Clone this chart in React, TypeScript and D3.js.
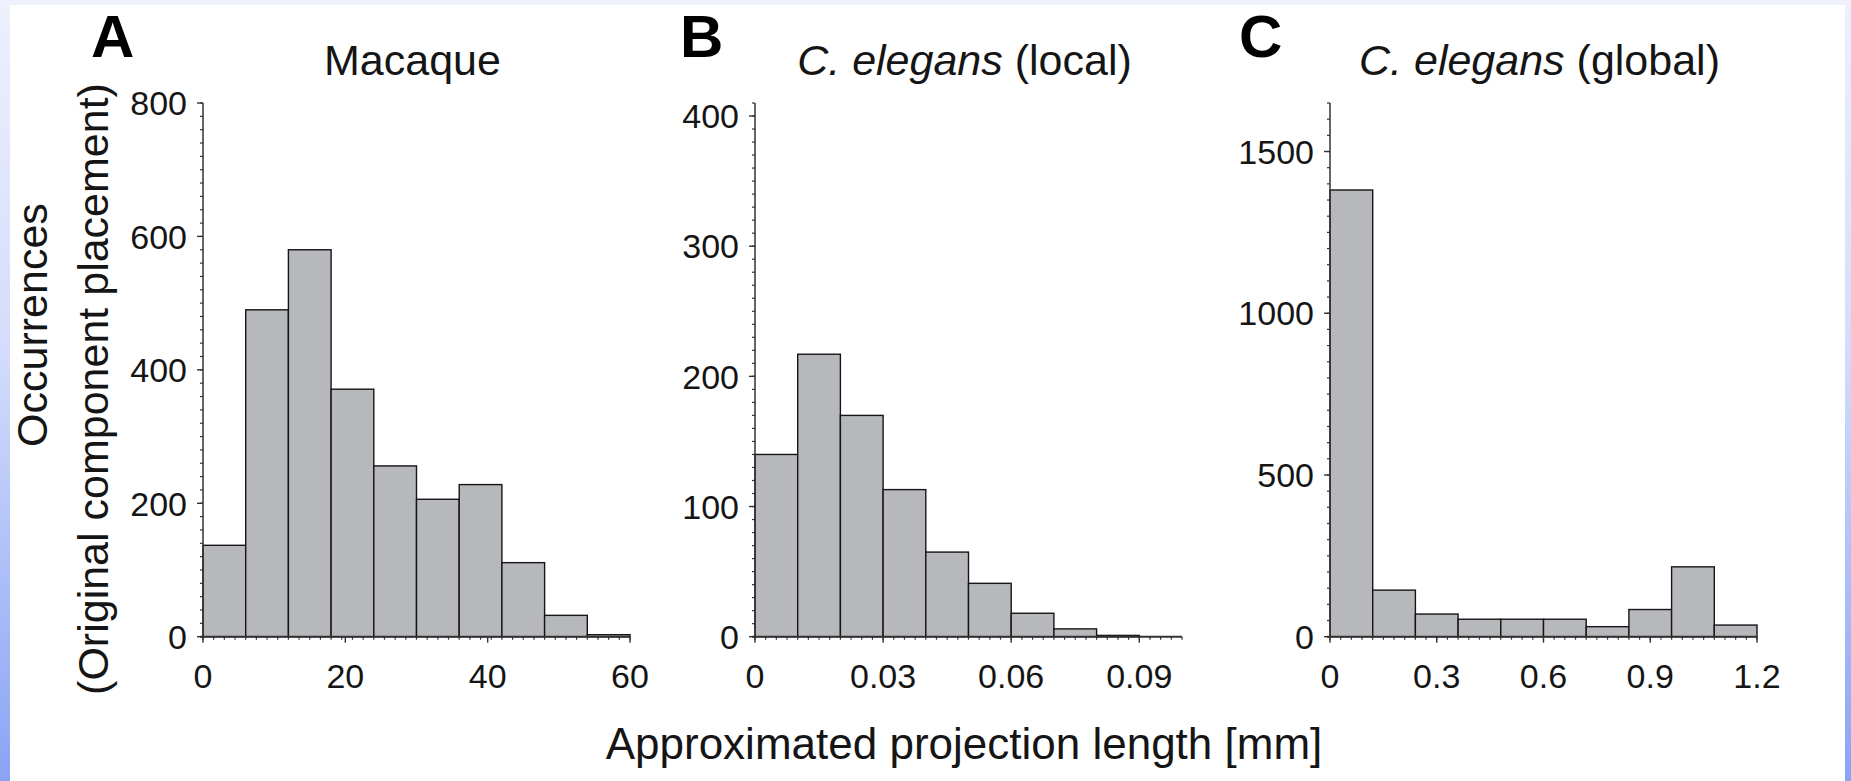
import React from "react";
import * as d3 from "d3";

// ---- data ----
const macaqueCounts = [137, 490, 580, 371, 256, 206, 228, 111, 32, 3];
const localCounts = [140, 217, 170, 113, 65, 41, 18, 6, 1, 0];
const globalCounts = [1381, 144, 70, 54, 54, 54, 31, 84, 216, 36];

const macaqueBin = 6;
const localBin = 0.01;
const globalBin = 0.12;

const macaqueXTicks = [0, 20, 40, 60];
const macaqueXLabels = ["0", "20", "40", "60"];
const macaqueYTicks = [0, 200, 400, 600, 800];

const localXTicks = [0, 0.03, 0.06, 0.09];
const localXLabels = ["0", "0.03", "0.06", "0.09"];
const localYTicks = [0, 100, 200, 300, 400];

const globalXTicks = [0, 0.3, 0.6, 0.9, 1.2];
const globalXLabels = ["0", "0.3", "0.6", "0.9", "1.2"];
const globalYTicks = [0, 500, 1000, 1500];

const panelLetters = ["A", "B", "C"];
const xAxisTitle = "Approximated projection length [mm]";
const yAxisTitle1 = "Occurrences";
const yAxisTitle2 = "(Original component placement)";

const W = 1851;
const H = 781;
const FONT = "'Liberation Sans', Arial, Helvetica, sans-serif";
const BAR_FILL = "#b7b8bc";
const INK = "#151515";

type Panel = {
  letter: string;
  counts: number[];
  bin: number;
  xMax: number;
  yMax: number;
  xTicks: number[];
  xLabels: string[];
  yTicks: number[];
  yMinor: number;
  left: number;
  letterX: number;
  title: React.ReactNode;
};

const panels: Panel[] = [
  {
    letter: panelLetters[0], counts: macaqueCounts, bin: macaqueBin, xMax: 60, yMax: 800,
    xTicks: macaqueXTicks, xLabels: macaqueXLabels, yTicks: macaqueYTicks, yMinor: 20,
    left: 203, letterX: 91,
    title: <tspan>Macaque</tspan>,
  },
  {
    letter: panelLetters[1], counts: localCounts, bin: localBin, xMax: 0.1, yMax: 410,
    xTicks: localXTicks, xLabels: localXLabels, yTicks: localYTicks, yMinor: 10,
    left: 755, letterX: 680,
    title: (<><tspan fontStyle="italic">C. elegans</tspan><tspan> (local)</tspan></>),
  },
  {
    letter: panelLetters[2], counts: globalCounts, bin: globalBin, xMax: 1.2, yMax: 1650,
    xTicks: globalXTicks, xLabels: globalXLabels, yTicks: globalYTicks, yMinor: 50,
    left: 1330, letterX: 1239,
    title: (<><tspan fontStyle="italic">C. elegans</tspan><tspan> (global)</tspan></>),
  },
];

const PLOT_W = 427;
const Y0 = 636.7;
const YTOP = 103;

function HistPanel({ p }: { p: Panel }) {
  const x = d3.scaleLinear().domain([0, p.xMax]).range([p.left, p.left + PLOT_W]);
  const y = d3.scaleLinear().domain([0, p.yMax]).range([Y0, YTOP]);
  const xMinorStep = p.bin / 4;
  const nx = Math.round(p.xMax / xMinorStep);
  const xMinor = d3.range(0, nx + 1).map((i) => i * xMinorStep);
  const ny = Math.floor(p.yMax / p.yMinor + 1e-6);
  const yMinor = d3.range(0, ny + 1).map((i) => i * p.yMinor);
  const cx = p.left + PLOT_W / 2 - 4;
  return (
    <g>
      <text x={p.letterX} y={57} fontSize={60} fontWeight="bold" fill="#000" fontFamily={FONT}>
        {p.letter}
      </text>
      <text x={cx} y={75} fontSize={43} textAnchor="middle" fill={INK} fontFamily={FONT}>
        {p.title}
      </text>
      {p.counts.map((c, i) =>
        c > 0 ? (
          <rect
            key={i}
            x={x(i * p.bin)}
            y={y(c)}
            width={x((i + 1) * p.bin) - x(i * p.bin)}
            height={Y0 - y(c)}
            fill={BAR_FILL}
            stroke={INK}
            strokeWidth={1.4}
          />
        ) : null
      )}
      {/* y axis */}
      <line x1={x(0)} x2={x(0)} y1={Y0} y2={YTOP} stroke="#333" strokeWidth={1.5} />
      {yMinor.map((v, i) => (
        <line key={"ym" + i} x1={x(0) - 3} x2={x(0)} y1={y(v)} y2={y(v)} stroke="#333" strokeWidth={1.2} />
      ))}
      {p.yTicks.map((v, i) => (
        <g key={"yt" + i}>
          <line x1={x(0) - 6} x2={x(0)} y1={y(v)} y2={y(v)} stroke="#333" strokeWidth={1.4} />
          <text x={x(0) - 16} y={y(v)} dy="0.36em" textAnchor="end" fontSize={34} fill={INK} fontFamily={FONT}>
            {String(v)}
          </text>
        </g>
      ))}
      {/* x axis */}
      <line x1={x(0) - 3} x2={x(p.xMax)} y1={Y0} y2={Y0} stroke="#333" strokeWidth={2} />
      {xMinor.map((v, i) => (
        <line key={"xm" + i} x1={x(v)} x2={x(v)} y1={Y0} y2={Y0 + 3} stroke="#333" strokeWidth={1.2} />
      ))}
      {p.xTicks.map((v, i) => (
        <g key={"xt" + i}>
          <line x1={x(v)} x2={x(v)} y1={Y0} y2={Y0 + 6} stroke="#333" strokeWidth={1.4} />
          <text x={x(v)} y={688} textAnchor="middle" fontSize={34} fill={INK} fontFamily={FONT}>
            {p.xLabels[i]}
          </text>
        </g>
      ))}
    </g>
  );
}

export default function App() {
  return (
    <svg
      width={W}
      height={H}
      viewBox={`0 0 ${W} ${H}`}
      style={{ position: "absolute", left: 0, top: 0, display: "block" }}
    >
      <defs>
        <linearGradient id="edge" x1="0" y1="0" x2="0" y2="1">
          <stop offset="0%" stopColor="#eef0fd" />
          <stop offset="45%" stopColor="#d3dcfb" />
          <stop offset="100%" stopColor="#8aa3f5" />
        </linearGradient>
      </defs>
      <rect x={0} y={0} width={W} height={H} fill="url(#edge)" />
      <rect x={0} y={0} width={W} height={5} fill="#eef0fd" />
      <rect x={10} y={5} width={1835} height={H - 5} fill="#ffffff" />
      {panels.map((p, i) => (
        <HistPanel key={i} p={p} />
      ))}
      <text x={964} y={759} fontSize={44} textAnchor="middle" fill={INK} fontFamily={FONT}>
        {xAxisTitle}
      </text>
      <text transform="translate(47,325) rotate(-90)" fontSize={43} textAnchor="middle" fill={INK} fontFamily={FONT}>
        {yAxisTitle1}
      </text>
      <text transform="translate(108,389) rotate(-90)" fontSize={43} textAnchor="middle" fill={INK} fontFamily={FONT}>
        {yAxisTitle2}
      </text>
    </svg>
  );
}
